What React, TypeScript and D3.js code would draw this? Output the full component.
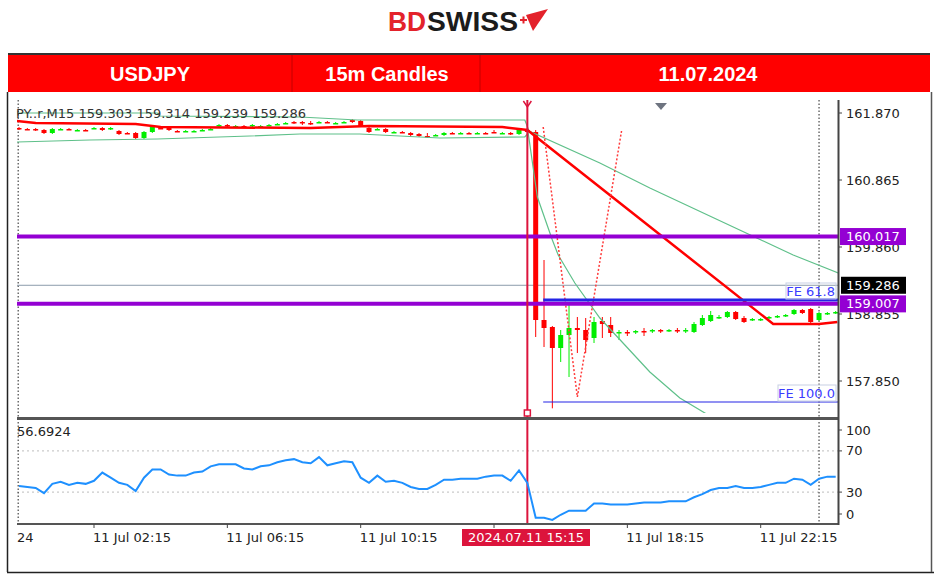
import * as d3 from "d3";
import React from "react";

// 15m bars: index 0 = 11 Jul 00:00 ... index 98 = 12 Jul 00:30
const opens = [
  161.645, 161.63, 161.63, 161.615, 161.57, 161.623, 161.63, 161.608, 161.615, 161.638,
  161.645, 161.623, 161.6, 161.57, 161.57, 161.495, 161.585, 161.645, 161.645, 161.6,
  161.593, 161.593, 161.608, 161.623, 161.675, 161.69, 161.668, 161.675, 161.668, 161.668,
  161.683, 161.698, 161.713, 161.735, 161.735, 161.72, 161.728, 161.735, 161.713, 161.728,
  161.765, 161.75, 161.645, 161.623, 161.63, 161.578, 161.585, 161.57, 161.555, 161.525,
  161.533, 161.54, 161.57, 161.563, 161.57, 161.563, 161.57, 161.585, 161.563, 161.57,
  161.555, 161.615, 161.585, 158.765, 158.66, 158.345, 158.54, 158.645, 158.615, 158.495,
  158.75, 158.69, 158.57, 158.585, 158.585, 158.6, 158.6, 158.615, 158.6, 158.615,
  158.6, 158.585, 158.69, 158.75, 158.795, 158.81, 158.885, 158.795, 158.765, 158.765,
  158.795, 158.81, 158.825, 158.855, 158.915, 158.93, 158.765, 158.855, 158.87,
];
const highs = [
  161.66, 161.645, 161.645, 161.63, 161.645, 161.645, 161.645, 161.63, 161.63, 161.66,
  161.66, 161.66, 161.615, 161.585, 161.585, 161.6, 161.675, 161.66, 161.66, 161.615,
  161.615, 161.615, 161.63, 161.645, 161.705, 161.705, 161.69, 161.69, 161.705, 161.69,
  161.705, 161.72, 161.735, 161.75, 161.75, 161.75, 161.75, 161.75, 161.735, 161.75,
  161.78, 161.765, 161.66, 161.645, 161.645, 161.6, 161.6, 161.585, 161.57, 161.57,
  161.555, 161.585, 161.585, 161.585, 161.585, 161.585, 161.585, 161.615, 161.585, 161.585,
  161.63, 161.645, 161.615, 159.665, 158.675, 158.615, 158.99, 158.81, 158.795, 158.81,
  158.81, 158.81, 158.615, 158.615, 158.615, 158.645, 158.63, 158.63, 158.63, 158.645,
  158.645, 158.735, 158.84, 158.9, 158.84, 158.9, 158.9, 158.825, 158.795, 158.795,
  158.825, 158.84, 158.855, 158.93, 158.93, 158.945, 158.885, 158.885, 158.9,
];
const lows = [
  161.615, 161.615, 161.6, 161.555, 161.555, 161.615, 161.615, 161.6, 161.6, 161.63,
  161.6, 161.615, 161.54, 161.555, 161.48, 161.48, 161.57, 161.63, 161.6, 161.585,
  161.585, 161.585, 161.6, 161.615, 161.66, 161.66, 161.66, 161.66, 161.66, 161.66,
  161.675, 161.69, 161.705, 161.705, 161.69, 161.69, 161.72, 161.72, 161.705, 161.72,
  161.72, 161.66, 161.57, 161.615, 161.57, 161.57, 161.57, 161.525, 161.51, 161.495,
  161.525, 161.525, 161.555, 161.555, 161.555, 161.555, 161.555, 161.57, 161.555, 161.54,
  161.54, 161.57, 158.51, 158.36, 157.44, 158.135, 157.91, 158.27, 158.27, 158.42,
  158.495, 158.51, 158.465, 158.525, 158.555, 158.525, 158.57, 158.57, 158.585, 158.57,
  158.57, 158.57, 158.675, 158.735, 158.78, 158.795, 158.765, 158.72, 158.75, 158.75,
  158.78, 158.795, 158.81, 158.84, 158.855, 158.72, 158.75, 158.84, 158.855,
];
const closes = [
  161.63, 161.623, 161.615, 161.57, 161.63, 161.63, 161.623, 161.615, 161.608, 161.645,
  161.615, 161.645, 161.555, 161.563, 161.495, 161.585, 161.66, 161.638, 161.615, 161.593,
  161.6, 161.6, 161.615, 161.63, 161.69, 161.683, 161.675, 161.668, 161.69, 161.675,
  161.69, 161.705, 161.72, 161.728, 161.72, 161.713, 161.735, 161.728, 161.72, 161.735,
  161.735, 161.675, 161.585, 161.63, 161.585, 161.585, 161.578, 161.54, 161.525, 161.518,
  161.54, 161.57, 161.563, 161.57, 161.563, 161.57, 161.563, 161.578, 161.57, 161.555,
  161.615, 161.585, 158.765, 158.645, 158.345, 158.54, 158.645, 158.615, 158.465, 158.735,
  158.705, 158.57, 158.585, 158.57, 158.6, 158.585, 158.615, 158.6, 158.615, 158.6,
  158.615, 158.705, 158.795, 158.84, 158.81, 158.885, 158.78, 158.735, 158.78, 158.78,
  158.81, 158.825, 158.84, 158.915, 158.87, 158.735, 158.87, 158.87, 158.885,
];

// lower panel oscillator, one value per bar
const oscValues = [
  36, 35, 34, 29, 38, 40, 37, 39, 38, 41,
  49, 44, 39, 37, 31, 44, 52, 52, 47, 46,
  46, 49, 50, 55, 57, 57, 57, 53, 52, 55,
  56, 59, 61, 62, 59, 58, 64, 56, 58, 60,
  59, 44, 39, 46, 40, 41, 39, 35, 33, 33,
  37, 42, 42, 43, 43, 43, 45, 46, 46, 41,
  51, 39, 5, 5, 3, 8, 12, 12, 12, 19,
  19, 18, 18, 18, 19, 20, 20, 20, 21, 21,
  21, 25, 28, 32, 34, 34, 36, 34, 34, 35,
  37, 39, 39, 43, 42, 37, 43, 45, 45,
];

// indicator lines (bar index, price)
const maBars = [-0.25, 2, 14, 17, 35, 42, 58, 61, 90.5, 96, 98.2];
const maPrices = [161.75, 161.72, 161.705, 161.66, 161.645, 161.675, 161.66, 161.615, 158.705, 158.705, 158.735];
const upperBars = [-0.25, 16.6, 16.9, 33.7, 40.6, 60.7, 61.2, 69.7, 75.7, 92.9, 98.3];
const upperPrices = [161.87, 161.87, 161.825, 161.81, 161.765, 161.765, 161.6, 161.12, 160.745, 159.74, 159.47];
const lowerBars = [-0.25, 8.5, 16.6, 27.7, 33.7, 40.9, 50.5, 60.7, 61.1, 62.2, 64, 64.7, 66.7, 69.7, 72.7, 75.7, 79.3, 83.3];
const lowerPrices = [161.435, 161.465, 161.48, 161.525, 161.555, 161.555, 161.495, 161.51, 161.57, 160.61, 159.965, 159.74, 159.32, 158.795, 158.39, 157.985, 157.595, 157.295];
const zigBars = [62.9, 67, 72.3];
const zigPrices = [161.66, 157.61, 161.6];

const levelPrices = [160.017, 159.007];
const bidPrice = 159.286;
const feLabels = ["FE 61.8", "FE 100.0"];
const fePrices = [159.065, 157.535];
const feStartBar = 62.9;
const eventBar = 61;
const daySepBars = [-0.1, 96];

const priceTicks = [161.87, 160.865, 159.86, 158.855, 157.85];
const oscTicks = [100, 70, 30, 0];
const oscGrid = [70, 30];
const timeTickBars = [9, 25, 41, 57, 73, 89];
const timeLabelBars = [9, 25, 41, 73, 89];
const timeLabels = ["11 Jul 02:15", "11 Jul 06:15", "11 Jul 10:15", "11 Jul 18:15", "11 Jul 22:15"];
const headerCells = ["USDJPY", "15m Candles", "11.07.2024"];

const FONT = "'DejaVu Sans', Verdana, sans-serif";

export default function App() {
  const x = d3.scaleLinear().domain([0, 98]).range([19, 835.7]);
  const y = d3.scaleLinear().domain([157.37, 162.065]).range([413, 100]);
  const yo = d3.scaleLinear().domain([0, 100]).range([523, 420]);

  const priceLine = d3
    .line<[number, number]>()
    .x((d) => x(d[0]))
    .y((d) => y(d[1]));
  const zip = (a: number[], b: number[]) => a.map((v, i) => [v, b[i]] as [number, number]);
  const oscLine = d3
    .line<number>()
    .x((_, i) => x(i))
    .y((d) => yo(d));

  const plotL = 17;
  const plotR = 838;
  const bodyW = 5;

  const headerEdges = [8, 292, 480, 930];

  return (
    <div style={{ position: "absolute", left: 0, top: 0 }}>
      <svg width={936} height={574} style={{ display: "block", background: "#fff" }} fontFamily={FONT}>
        <defs>
          <clipPath id="plotClip">
            <rect x={plotL} y={100} width={plotR - plotL} height={313} />
          </clipPath>
        </defs>

        {/* logo */}
        <text x={388} y={31} fontFamily="'Liberation Sans Narrow', 'Liberation Sans', Arial, sans-serif" fontWeight="bold" fontSize={28} fill="#e3222b" textLength={38} lengthAdjust="spacingAndGlyphs">
          BD
        </text>
        <text x={427} y={31} fontFamily="'Liberation Sans Narrow', 'Liberation Sans', Arial, sans-serif" fontWeight="bold" fontSize={28} fill="#1b1b1b" textLength={91} lengthAdjust="spacingAndGlyphs">
          SWISS
        </text>
        <polygon points="526,15 548,9 533,31" fill="#e3222b" />
        <path d="M520,20 h7 M523.5,16.5 v7" stroke="#e3222b" strokeWidth={2} />

        {/* header bar */}
        <rect x={8} y={54} width={922} height={38} fill="#ff0000" />
        <line x1={8} x2={930} y1={54} y2={54} stroke="#333" strokeWidth={2} />
        {headerEdges.slice(1, 3).map((e) => (
          <line key={e} x1={e} x2={e} y1={55} y2={92} stroke="#c40000" strokeWidth={1} />
        ))}
        {headerCells.map((t, i) => (
          <text
            key={t}
            x={i === 0 ? 150 : i === 1 ? 387 : 708}
            y={74}
            textAnchor="middle"
            dominantBaseline="central"
            fill="#fff"
            fontFamily="'Liberation Sans', Arial, sans-serif"
            fontWeight="bold"
            fontSize={20}
          >
            {t}
          </text>
        ))}

        {/* outer frame */}
        <line x1={7.5} x2={7.5} y1={92} y2={572} stroke="#222" strokeWidth={1.5} />
        <line x1={7} x2={934} y1={572.5} y2={572.5} stroke="#222" strokeWidth={1.5} />
        <line x1={931.5} x2={931.5} y1={92} y2={572} stroke="#555" strokeWidth={1.5} />

        {/* oscillator grid */}
        {oscGrid.map((v) => (
          <line key={v} x1={plotL} x2={plotR} y1={yo(v)} y2={yo(v)} stroke="#bdbdbd" strokeDasharray="2,3" />
        ))}

        {/* day separators */}
        {daySepBars.map((b) => (
          <line key={b} x1={x(b)} x2={x(b)} y1={100} y2={523} stroke="#222" strokeDasharray="1.5,2" />
        ))}

        {/* bid line */}
        <line x1={plotL} x2={plotR} y1={y(bidPrice)} y2={y(bidPrice)} stroke="#8c9bab" strokeWidth={1} />

        {/* candles */}
        <g clipPath="url(#plotClip)">
          {opens.map((o, i) => {
            const c = closes[i];
            const col = c >= o ? "#00ee00" : "#ff0000";
            const top = y(Math.max(o, c));
            const h = Math.max(1.5, Math.abs(y(o) - y(c)));
            return (
              <g key={i}>
                <line x1={x(i)} x2={x(i)} y1={y(highs[i])} y2={y(lows[i])} stroke={col} strokeWidth={1} />
                <rect x={x(i) - bodyW / 2} y={top} width={bodyW} height={h} fill={col} />
              </g>
            );
          })}

          {/* bands */}
          <path d={priceLine(zip(upperBars, upperPrices)) ?? ""} fill="none" stroke="#5fc08a" strokeWidth={1.2} />
          <path d={priceLine(zip(lowerBars, lowerPrices)) ?? ""} fill="none" stroke="#5fc08a" strokeWidth={1.2} />
          {/* red trend line */}
          <path d={priceLine(zip(maBars, maPrices)) ?? ""} fill="none" stroke="#ff0000" strokeWidth={2.5} />
          {/* zigzag */}
          <path d={priceLine(zip(zigBars, zigPrices)) ?? ""} fill="none" stroke="#ff3a3a" strokeWidth={1.5} strokeDasharray="2,2" />
        </g>

        {/* purple levels */}
        {levelPrices.map((p) => (
          <line key={p} x1={plotL} x2={plotR} y1={y(p)} y2={y(p)} stroke="#9400d3" strokeWidth={4} />
        ))}

        {/* FE levels */}
        {fePrices.map((p, i) => (
          <line key={p} x1={x(feStartBar)} x2={plotR} y1={y(p)} y2={y(p)} stroke="#2424e6" strokeWidth={i === 0 ? 3 : 1.2} />
        ))}
        {feLabels.map((t, i) => {
          const w = i === 0 ? 50 : 58;
          const cy = y(fePrices[i]) - 9;
          return (
            <g key={t}>
              <rect x={836 - w} y={cy - 8} width={w} height={16} fill="none" stroke="#c8d0e4" strokeWidth={1} />
              <text x={835} y={cy} textAnchor="end" dominantBaseline="central" fontSize={13} fill="#3c3cff">
                {t}
              </text>
            </g>
          );
        })}

        {/* event vertical line */}
        <line x1={x(eventBar)} x2={x(eventBar)} y1={100} y2={524} stroke="#dc143c" strokeWidth={2} />
        <path d={`M${x(eventBar) - 4},101 L${x(eventBar)},107 L${x(eventBar) + 4},101`} fill="none" stroke="#dc143c" strokeWidth={1.5} />
        <rect x={x(eventBar) - 3} y={410} width={6} height={6} fill="#fff" stroke="#dc143c" strokeWidth={1.5} />

        {/* shift marker */}
        <polygon points="655,103 667,103 661,110" fill="#6e7480" />

        {/* oscillator line */}
        <path d={oscLine(oscValues) ?? ""} fill="none" stroke="#1e90ff" strokeWidth={2} />

        {/* panel separators and axes */}
        <line x1={plotL} x2={plotR} y1={418.5} y2={418.5} stroke="#555" strokeWidth={3} />
        <line x1={plotL} x2={plotR + 1} y1={524} y2={524} stroke="#555" strokeWidth={2} />
        <line x1={plotR + 0.5} x2={plotR + 0.5} y1={100} y2={525} stroke="#444" strokeWidth={2} />

        {/* price axis */}
        {priceTicks.map((p) => (
          <g key={p}>
            <line x1={plotR} x2={plotR + 4} y1={y(p)} y2={y(p)} stroke="#444" />
            <text x={846} y={y(p)} dominantBaseline="central" fontSize={13} fill="#222">
              {p.toFixed(3)}
            </text>
          </g>
        ))}
        {levelPrices.map((p) => (
          <g key={p}>
            <rect x={840} y={y(p) - 8.5} width={66} height={17} fill="#9400d3" />
            <text x={846} y={y(p)} dominantBaseline="central" fontSize={13} fill="#fff">
              {p.toFixed(3)}
            </text>
          </g>
        ))}
        <rect x={841} y={y(bidPrice) - 8.5} width={65} height={17} fill="#000" />
        <text x={846} y={y(bidPrice)} dominantBaseline="central" fontSize={13} fill="#fff">
          {bidPrice.toFixed(3)}
        </text>

        {/* oscillator axis */}
        {oscTicks.map((v) => {
          const ty = v === 100 ? yo(v) + 10 : v === 0 ? yo(v) - 9 : yo(v);
          return (
            <g key={v}>
              <line x1={plotR} x2={plotR + 4} y1={ty} y2={ty} stroke="#444" />
              <text x={846} y={ty} dominantBaseline="central" fontSize={13} fill="#222">
                {v}
              </text>
            </g>
          );
        })}

        {/* time axis */}
        {timeTickBars.map((b) => (
          <line key={b} x1={x(b)} x2={x(b)} y1={524} y2={528} stroke="#444" />
        ))}
        <text x={17} y={537} dominantBaseline="central" fontSize={13} fill="#222">
          24
        </text>
        {timeLabelBars.map((b, i) => (
          <text key={b} x={x(b) - 1} y={537} dominantBaseline="central" fontSize={13} fill="#222">
            {timeLabels[i]}
          </text>
        ))}
        <rect x={462} y={529} width={128} height={17} fill="#dc143c" />
        <text x={526} y={537.5} textAnchor="middle" dominantBaseline="central" fontSize={13} fill="#fff">
          2024.07.11 15:15
        </text>

        {/* info texts */}
        <text x={16} y={113} dominantBaseline="central" fontSize={13} fill="#333">
          PY..r,M15  159.303 159.314 159.239 159.286
        </text>
        <text x={17} y={431} dominantBaseline="central" fontSize={13} fill="#222">
          56.6924
        </text>
      </svg>
    </div>
  );
}
